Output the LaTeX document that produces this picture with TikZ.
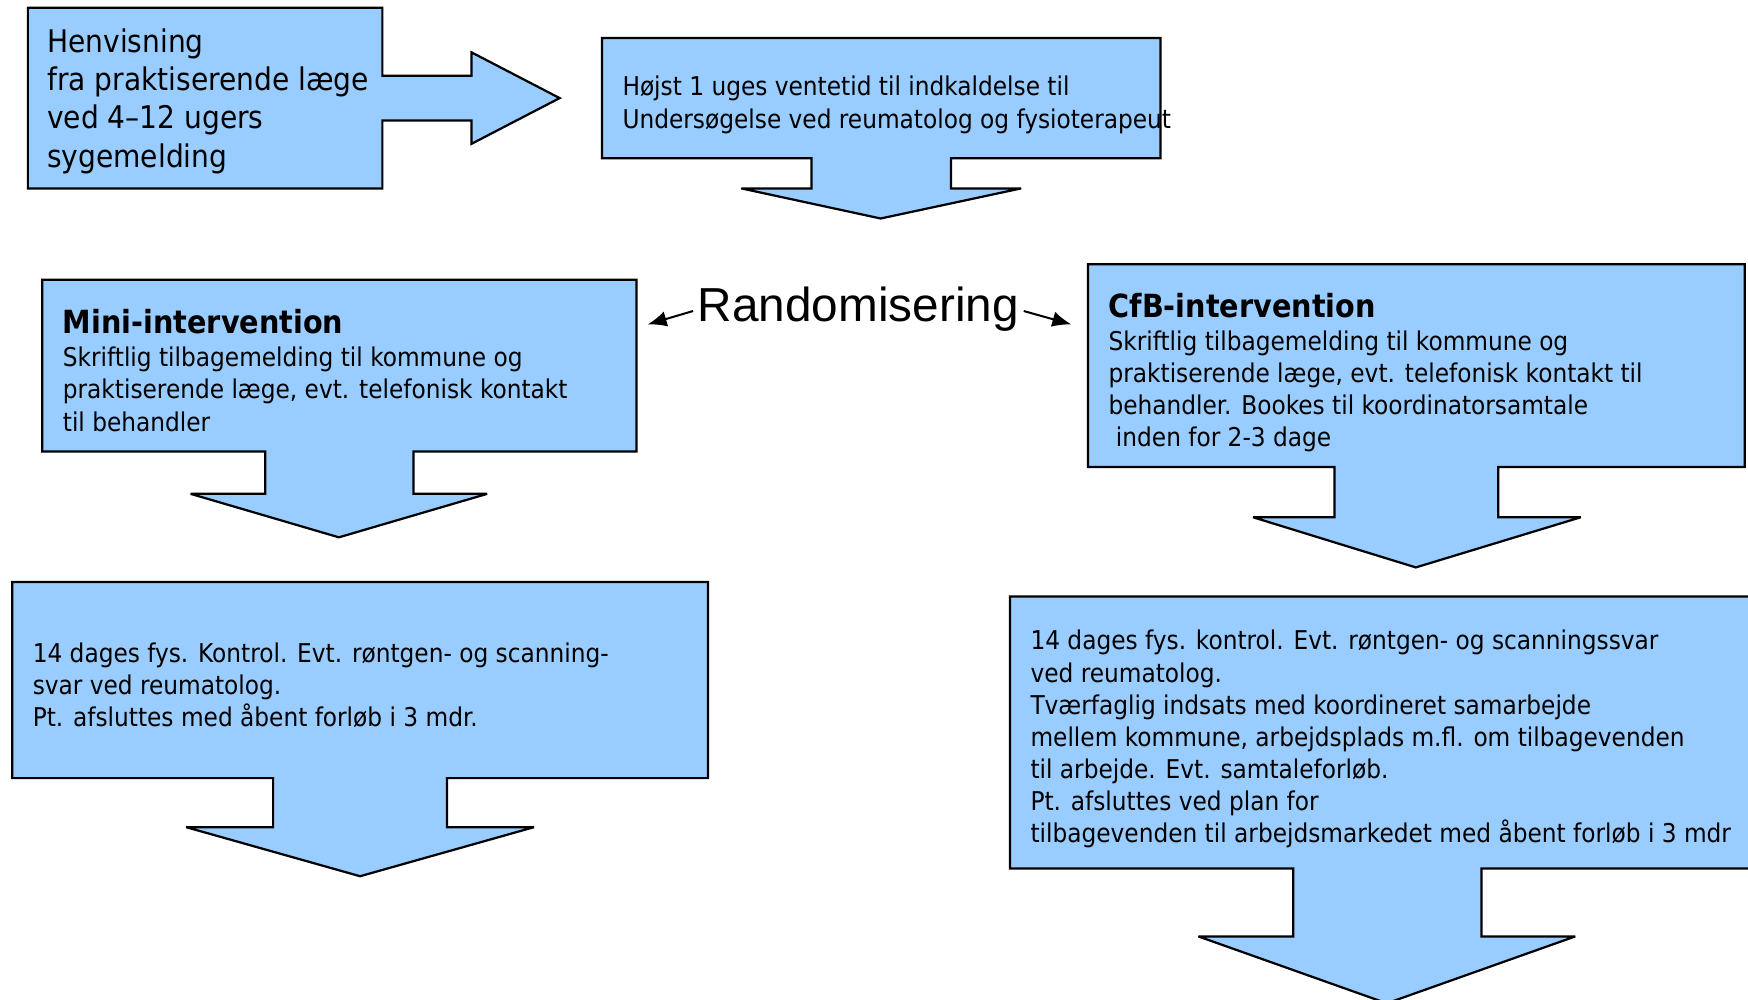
\documentclass[tikz,border=0pt]{standalone}
\usepackage{fontspec}
\setmainfont{DejaVu Sans Condensed}
\newfontfamily\arialfont{Liberation Sans}
\usetikzlibrary{arrows.meta}
\definecolor{boxblue}{HTML}{99CCFF}
\tikzset{
  blk/.style={draw=black, fill=boxblue, line width=1pt, line join=miter, miter limit=3},
  txt/.style={anchor=north west, inner sep=0pt, align=left, font=\fontsize{11.6}{14.4}\selectfont},
  bigtxt/.style={anchor=north west, inner sep=0pt, align=left, font=\fontsize{14}{17.25}\selectfont},
  ttl/.style={anchor=north west, inner sep=0pt, font=\bfseries\fontsize{14.3}{17}\selectfont},
  rarrow/.style={line width=0.9pt, -{Latex[length=8.5pt,width=7pt]}}
}
\begin{document}
\begin{tikzpicture}[x=0.5pt,y=-0.5pt]
\useasboundingbox (0,0) rectangle (1568,897);
% shapes
\draw[blk] (25,7) -- (343,7) -- (343,68) -- (423,68) -- (423,47) -- (502,88) -- (423,129) -- (423,108) -- (343,108) -- (343,169) -- (25,169) -- cycle;
\draw[blk] (540,34) -- (1041,34) -- (1041,142) -- (853,142) -- (853,169) -- (916,169) -- (790,196) -- (665,169) -- (728,169) -- (728,142) -- (540,142) -- cycle;
\draw[blk] (38,251) -- (571,251) -- (571,405) -- (371,405) -- (371,443) -- (437,443) -- (304,482) -- (171,443) -- (238,443) -- (238,405) -- (38,405) -- cycle;
\draw[blk] (976,237) -- (1565,237) -- (1565,419) -- (1344,419) -- (1344,464) -- (1418,464) -- (1270,509) -- (1124,464) -- (1197,464) -- (1197,419) -- (976,419) -- cycle;
\draw[blk] (11,522) -- (635,522) -- (635,698) -- (401,698) -- (401,742) -- (479,742) -- (323,786) -- (167,742) -- (245,742) -- (245,698) -- (11,698) -- cycle;
\draw[blk] (906,535) -- (1580,535) -- (1580,779) -- (1329,779) -- (1329,840) -- (1413,840) -- (1244,900) -- (1075,840) -- (1160,840) -- (1160,779) -- (906,779) -- cycle;
% texts
\node[bigtxt] (henv) at (42,25) {Henvisning\\fra praktiserende læge\\ved 4–12 ugers\\sygemelding};
\node[txt] (hojst) at (558,68) {Højst 1 uges ventetid til indkaldelse til\\Undersøgelse ved reumatolog og fysioterapeut};
\node[ttl] (minit) at (56,277) {Mini-intervention};
\node[txt] (minib) at (56,311) {Skriftlig tilbagemelding til kommune og\\praktiserende læge, evt. telefonisk kontakt\\til behandler};
\node[ttl] (cfbt) at (994,263) {CfB-intervention};
\node[txt] (cfbb) at (994,296) {Skriftlig tilbagemelding til kommune og\\praktiserende læge, evt. telefonisk kontakt til\\behandler. Bookes til koordinatorsamtale\\\ inden for 2-3 dage};
\node[txt] (mini2) at (29,576) {14 dages fys. Kontrol. Evt. røntgen- og scanning-\\svar ved reumatolog.\\Pt. afsluttes med åbent forløb i 3 mdr.};
\node[txt] (cfb2) at (924,565) {14 dages fys. kontrol. Evt. røntgen- og scanningssvar\\ved reumatolog.\\Tværfaglig indsats med koordineret samarbejde\\mellem kommune, arbejdsplads m.fl. om tilbagevenden\\til arbejde. Evt. samtaleforløb.\\Pt. afsluttes ved plan for\\tilbagevenden til arbejdsmarkedet med åbent forløb i 3 mdr};
\node[inner sep=0pt, font=\arialfont\fontsize{21.4}{25}\selectfont] (rand) at (770,277) {Randomisering};
\coordinate (lend) at (581,291);
\coordinate (rend) at (961,291);
\draw[rarrow] (rand.west) ++(-4,2) -- (lend);
\draw[rarrow] (rand.east) ++(4,2) -- (rend);
\end{tikzpicture}
\end{document}
